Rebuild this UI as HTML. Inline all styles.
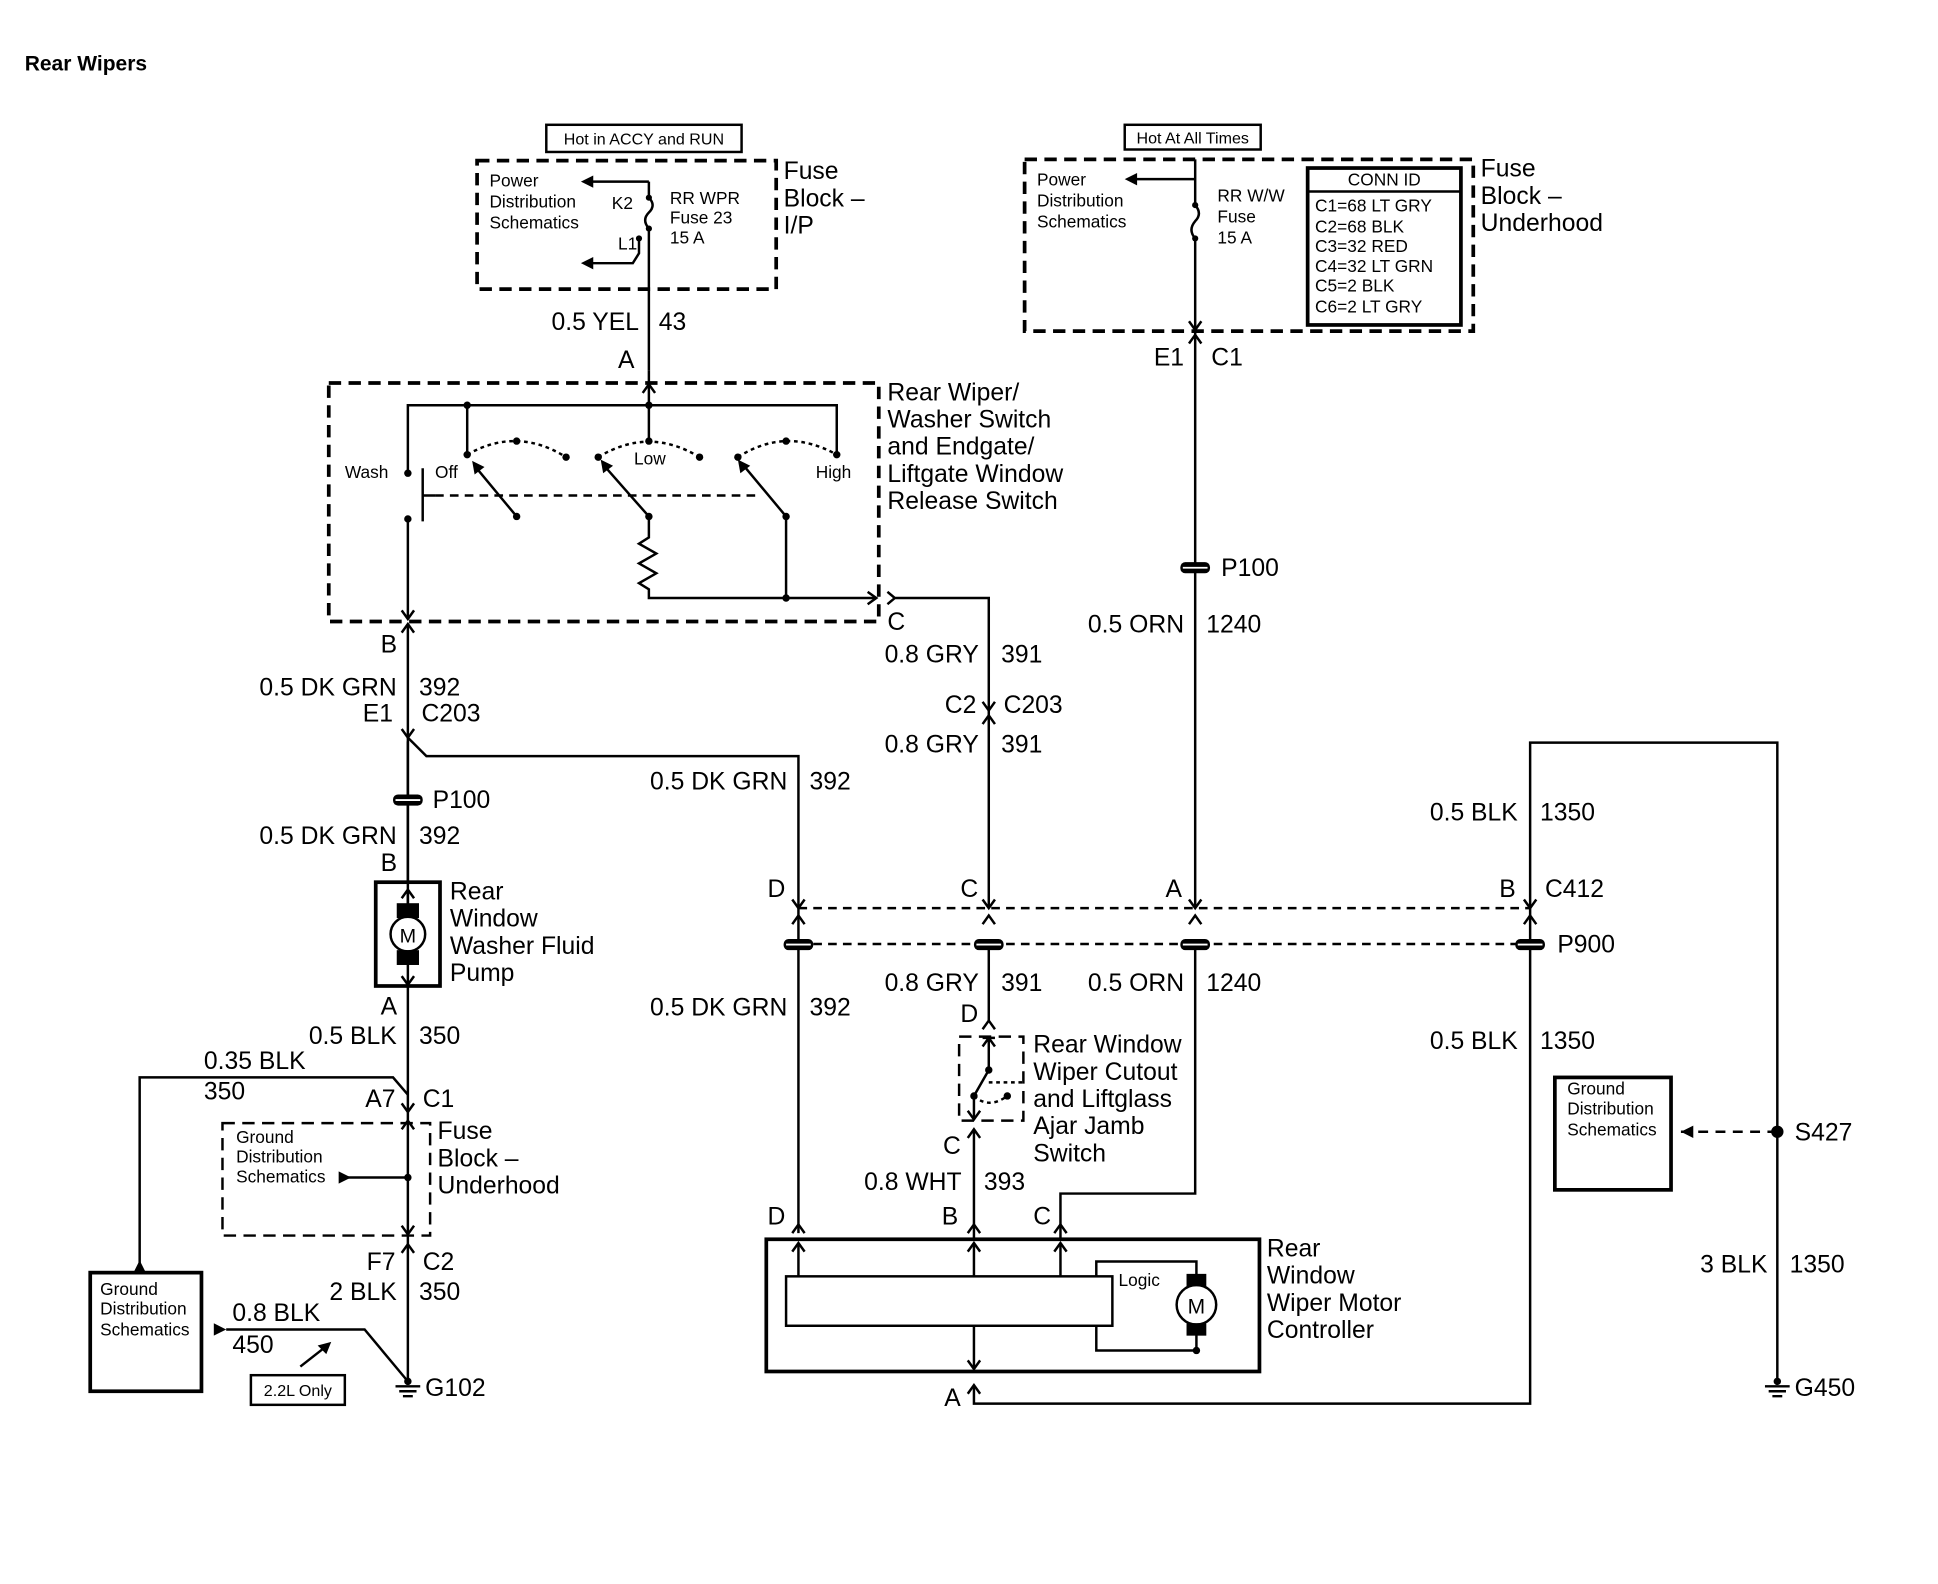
<!DOCTYPE html>
<html><head><meta charset="utf-8"><style>
html,body{margin:0;padding:0;background:#fff;}
svg{display:block;}
text{font-family:"Liberation Sans",Arial,sans-serif;fill:#000;}
.l{font-size:20px;}
.s{font-size:14px;}
.r{text-anchor:end;}
</style></head><body>
<svg width="1938" height="1584" viewBox="0 0 1568 1282" preserveAspectRatio="none" xmlns="http://www.w3.org/2000/svg">
<g fill="none" stroke="#000" stroke-width="2">
<rect x="442" y="101" width="158" height="22" stroke-width="2"/>
<rect x="386" y="130" width="242" height="104" stroke-width="3" stroke-dasharray="10,6"/>
<path d="M525 147 H478"/><path d="M525 147 V160 M525 185 V300" />
<path d="M525 160 q6 6 0 12 q-6 6 0 13"/>
<path d="M517 193 V205 L512 213 H478"/>
<rect x="266" y="310" width="445" height="193" stroke-width="3" stroke-dasharray="10,6"/>
<path d="M330 383 V328 H677 V368"/>
<path d="M378 328 V368"/><path d="M525 300 V357"/>
<path d="M520 318 L525 311 L530 318"/>
<path d="M342 379 V422 M342 401 H352"/>
<path d="M330 420 V500"/>
<path d="M325 494 L330 501 L335 494"/>
<path d="M352 401 H615" stroke-dasharray="7,5"/>
<path d="M378 368 Q418 345 458 370 M484 370 Q525 345 566 370 M597 370 Q636 345 677 368" stroke-dasharray="3,3"/>
<path d="M418 418 L384 377 M525 418 L488 376 M636 418 L601 376"/>
<path d="M525 418 V435 l-8 5 l14 8 l-14 8 l14 8 l-14 8 l8 5 V484 H708"/>
<path d="M702 479 L709 484 L702 489"/>
<path d="M636 418 V484"/>
<path d="M718 479 L724 484 L718 489 M724 484 H800 V735"/>
<path d="M330 505 V735"/>
<path d="M325 512 L330 505 L335 512"/>
<path d="M325 590 L330 597 L335 590 M330 597 L345 612 H646 V998"/>
<path d="M330 600 V714"/>
<rect x="304" y="714" width="52" height="84" stroke-width="3"/>
<path d="M330 720 V798"/>
<path d="M325 727 L330 720 L335 727 M325 790 L330 797 L335 790"/>
<circle cx="330" cy="756" r="14" fill="#fff"/>
<path d="M330 798 V1118"/>
<path d="M113 1025 V872 H318 L330 886"/>
<path d="M325 893 L330 900 L335 893 M325 914 L330 907 L335 914"/>
<rect x="180" y="909" width="168" height="91" stroke-dasharray="10,6"/>
<path d="M280 953 H330"/>
<path d="M325 992 L330 999 L335 992 M325 1014 L330 1007 L335 1014"/>
<path d="M183 1076 H295 L330 1118"/>
<path d="M243 1106 L266 1088"/>
<rect x="73" y="1030" width="90" height="96" stroke-width="3"/>
<rect x="203" y="1113" width="76" height="24"/>
<path d="M320 1122 H340 M323 1126 H337 M326 1130 H334"/>
<rect x="910" y="101" width="110" height="20"/>
<rect x="829" y="129" width="363" height="139" stroke-width="3" stroke-dasharray="10,6"/>
<path d="M967 145 H918"/>
<path d="M967 129 V166 M967 193 V735"/>
<path d="M967 166 q6 7 0 13 q-6 7 0 14"/>
<path d="M962 260 L967 267 L972 260 M962 278 L967 271 L972 278"/>
<rect x="1058" y="136" width="124" height="127" stroke-width="3"/>
<path d="M1058 155 H1182"/>
<path d="M795 568 L800 575 L805 568 M795 586 L800 579 L805 586"/>
<path d="M646 735 H1238 M646 764 H1238" stroke-dasharray="7,5"/>
<path d="M641 728 L646 735 L651 728 M795 728 L800 735 L805 728 M962 728 L967 735 L972 728 M1233 728 L1238 735 L1243 728"/>
<path d="M641 748 L646 741 L651 748 M795 748 L800 741 L805 748 M962 748 L967 741 L972 748 M1233 748 L1238 741 L1243 748"/>
<path d="M800 764 V826"/>
<path d="M795 833 L800 826 L805 833"/>
<rect x="776" y="839" width="52" height="68" stroke-dasharray="10,6"/>
<path d="M800 840 V866 L788 887 V906"/>
<path d="M795 847 L800 840 L805 847 M783 899 L788 906 L793 899 M795 840 H805"/>
<path d="M800 876 H828 M788 887 Q800 898 815 887" stroke-dasharray="3,3"/>
<path d="M783 921 L788 914 L793 921 M788 914 V1003"/>
<path d="M967 764 V966 H858 V1003"/>
<path d="M1238 735 V1136 H788 V1122"/>
<path d="M1238 735 V601 H1438 V1118"/>
<path d="M1360 916 H1438" stroke-dasharray="8,6"/>
<path d="M1428 1122 H1448 M1431 1126 H1445 M1434 1130 H1442"/>
<rect x="1258" y="872" width="94" height="91" stroke-width="3"/>
<path d="M641 998 L646 991 L651 998 M783 998 L788 991 L793 998 M853 998 L858 991 L863 998"/>
<rect x="620" y="1003" width="399" height="107" stroke-width="3"/>
<rect x="636" y="1033" width="264" height="40"/>
<path d="M646 1033 V1006 M788 1033 V1006 M858 1033 V1006"/>
<path d="M641 1013 L646 1006 L651 1013 M783 1013 L788 1006 L793 1013 M853 1013 L858 1006 L863 1013"/>
<path d="M788 1073 V1108 M783 1101 L788 1108 L793 1101 M783 1128 L788 1121 L793 1128"/>
<path d="M900 1021 H887 V1033 M887 1073 V1093 H968 M887 1021 H968 V1093"/>
<circle cx="968" cy="1056" r="16" fill="#fff"/>
</g>
<g fill="#000">
<circle cx="378" cy="328" r="3"/><circle cx="525" cy="328" r="3"/>
<circle cx="378" cy="368" r="3"/><circle cx="418" cy="357" r="3"/><circle cx="458" cy="370" r="3"/>
<circle cx="484" cy="370" r="3"/><circle cx="525" cy="357" r="3"/><circle cx="566" cy="370" r="3"/>
<circle cx="597" cy="370" r="3"/><circle cx="636" cy="357" r="3"/><circle cx="677" cy="368" r="3"/>
<circle cx="330" cy="383" r="3"/><circle cx="330" cy="420" r="3"/>
<circle cx="418" cy="418" r="3"/><circle cx="525" cy="418" r="3"/><circle cx="636" cy="418" r="3"/><circle cx="636" cy="484" r="3"/>
<circle cx="525" cy="160" r="2.5"/><circle cx="525" cy="185" r="2.5"/><circle cx="517" cy="193" r="2.5"/>
<circle cx="967" cy="166" r="2.5"/><circle cx="967" cy="193" r="2.5"/>
<circle cx="330" cy="953" r="3"/><circle cx="330" cy="1118" r="3"/><circle cx="1438" cy="1118" r="3"/>
<circle cx="1438" cy="916" r="5"/><circle cx="800" cy="866" r="3"/><circle cx="788" cy="887" r="3"/><circle cx="815" cy="887" r="3"/>
<circle cx="968" cy="1093" r="3"/>
<path d="M470 147 L480 142 L480 152Z"/><path d="M470 213 L480 208 L480 218Z"/><path d="M910 145 L920 140 L920 150Z"/>
<path d="M382 373 L384 384 L392 378Z"/><path d="M486 372 L488 383 L496 377Z"/><path d="M597 372 L599 383 L607 377Z"/>
<path d="M284 953 L274 948 L274 958Z"/><path d="M113 1020 L108 1030 L118 1030Z"/><path d="M183 1076 L173 1071 L173 1081Z"/>
<path d="M268 1086 L257 1089 L264 1096Z"/><path d="M1360 916 L1370 911 L1370 921Z"/>
<rect x="321" y="731" width="18" height="12"/><rect x="321" y="769" width="18" height="12"/>
<rect x="960" y="1031" width="16" height="10"/><rect x="960" y="1071" width="16" height="10"/>
<rect x="955" y="455" width="24" height="9" rx="4"/>
<rect x="318" y="643" width="24" height="9" rx="4"/>
<rect x="634" y="760" width="24" height="9" rx="4"/><rect x="788" y="760" width="24" height="9" rx="4"/>
<rect x="955" y="760" width="24" height="9" rx="4"/><rect x="1226" y="760" width="24" height="9" rx="4"/>
</g>
<g stroke="#fff" stroke-width="1.5">
<path d="M957 459.5 H977 M320 647.5 H340 M636 764.5 H656 M790 764.5 H810 M957 764.5 H977 M1228 764.5 H1248"/>
</g>
<text x="20" y="57" style="font-size:17px;font-weight:bold">Rear Wipers</text>
<text x="521" y="117" class="s" text-anchor="middle" style="font-size:13px">Hot in ACCY and RUN</text>
<text x="396" y="151" class="s">Power</text><text x="396" y="168" class="s">Distribution</text><text x="396" y="185" class="s">Schematics</text>
<text x="495" y="169" class="s">K2</text><text x="500" y="202" class="s">L1</text>
<text x="542" y="165" class="s">RR WPR</text><text x="542" y="181" class="s">Fuse 23</text><text x="542" y="197" class="s">15 A</text>
<text x="634" y="145" class="l">Fuse</text><text x="634" y="167" class="l">Block –</text><text x="634" y="189" class="l">I/P</text>
<text x="517" y="267" class="l r">0.5 YEL</text><text x="533" y="267" class="l">43</text>
<text x="500" y="298" class="l">A</text>
<text x="279" y="387" class="s">Wash</text><text x="352" y="387" class="s">Off</text><text x="513" y="376" class="s">Low</text><text x="660" y="387" class="s">High</text>
<text x="718" y="324" class="l">Rear Wiper/</text><text x="718" y="346" class="l">Washer Switch</text><text x="718" y="368" class="l">and Endgate/</text><text x="718" y="390" class="l">Liftgate Window</text><text x="718" y="412" class="l">Release Switch</text>
<text x="718" y="510" class="l">C</text>
<text x="308" y="528" class="l">B</text>
<text x="321" y="563" class="l r">0.5 DK GRN</text><text x="339" y="563" class="l">392</text>
<text x="318" y="584" class="l r">E1</text><text x="341" y="584" class="l">C203</text>
<text x="350" y="654" class="l">P100</text>
<text x="321" y="683" class="l r">0.5 DK GRN</text><text x="339" y="683" class="l">392</text>
<text x="308" y="705" class="l">B</text>
<text x="330" y="763" text-anchor="middle" style="font-size:16px">M</text>
<text x="364" y="728" class="l">Rear</text><text x="364" y="750" class="l">Window</text><text x="364" y="772" class="l">Washer Fluid</text><text x="364" y="794" class="l">Pump</text>
<text x="308" y="821" class="l">A</text>
<text x="321" y="845" class="l r">0.5 BLK</text><text x="339" y="845" class="l">350</text>
<text x="165" y="865" class="l">0.35 BLK</text><text x="165" y="890" class="l">350</text>
<text x="320" y="896" class="l r">A7</text><text x="342" y="896" class="l">C1</text>
<text x="191" y="925" class="s">Ground</text><text x="191" y="941" class="s">Distribution</text><text x="191" y="957" class="s">Schematics</text>
<text x="354" y="922" class="l">Fuse</text><text x="354" y="944" class="l">Block –</text><text x="354" y="966" class="l">Underhood</text>
<text x="320" y="1028" class="l r">F7</text><text x="342" y="1028" class="l">C2</text>
<text x="321" y="1052" class="l r">2 BLK</text><text x="339" y="1052" class="l">350</text>
<text x="81" y="1048" class="s">Ground</text><text x="81" y="1064" class="s">Distribution</text><text x="81" y="1081" class="s">Schematics</text>
<text x="188" y="1069" class="l">0.8 BLK</text><text x="188" y="1095" class="l">450</text>
<text x="241" y="1130" class="s" text-anchor="middle" style="font-size:13px">2.2L Only</text>
<text x="344" y="1130" class="l">G102</text>
<text x="965" y="116" class="s" text-anchor="middle" style="font-size:13px">Hot At All Times</text>
<text x="839" y="150" class="s">Power</text><text x="839" y="167" class="s">Distribution</text><text x="839" y="184" class="s">Schematics</text>
<text x="985" y="163" class="s">RR W/W</text><text x="985" y="180" class="s">Fuse</text><text x="985" y="197" class="s">15 A</text>
<text x="1120" y="150" class="s" text-anchor="middle">CONN ID</text>
<text x="1064" y="171" class="s">C1=68 LT GRY</text><text x="1064" y="188" class="s">C2=68 BLK</text><text x="1064" y="204" class="s">C3=32 RED</text>
<text x="1064" y="220" class="s">C4=32 LT GRN</text><text x="1064" y="236" class="s">C5=2 BLK</text><text x="1064" y="253" class="s">C6=2 LT GRY</text>
<text x="1198" y="143" class="l">Fuse</text><text x="1198" y="165" class="l">Block –</text><text x="1198" y="187" class="l">Underhood</text>
<text x="958" y="296" class="l r">E1</text><text x="980" y="296" class="l">C1</text>
<text x="988" y="466" class="l">P100</text>
<text x="958" y="512" class="l r">0.5 ORN</text><text x="976" y="512" class="l">1240</text>
<text x="792" y="536" class="l r">0.8 GRY</text><text x="810" y="536" class="l">391</text>
<text x="790" y="577" class="l r">C2</text><text x="812" y="577" class="l">C203</text>
<text x="792" y="609" class="l r">0.8 GRY</text><text x="810" y="609" class="l">391</text>
<text x="637" y="639" class="l r">0.5 DK GRN</text><text x="655" y="639" class="l">392</text>
<text x="1228" y="664" class="l r">0.5 BLK</text><text x="1246" y="664" class="l">1350</text>
<text x="621" y="726" class="l">D</text><text x="777" y="726" class="l">C</text><text x="943" y="726" class="l">A</text><text x="1213" y="726" class="l">B</text><text x="1250" y="726" class="l">C412</text>
<text x="1260" y="771" class="l">P900</text>
<text x="792" y="802" class="l r">0.8 GRY</text><text x="810" y="802" class="l">391</text>
<text x="958" y="802" class="l r">0.5 ORN</text><text x="976" y="802" class="l">1240</text>
<text x="637" y="822" class="l r">0.5 DK GRN</text><text x="655" y="822" class="l">392</text>
<text x="777" y="827" class="l">D</text>
<text x="1228" y="849" class="l r">0.5 BLK</text><text x="1246" y="849" class="l">1350</text>
<text x="836" y="852" class="l">Rear Window</text><text x="836" y="874" class="l">Wiper Cutout</text><text x="836" y="896" class="l">and Liftglass</text><text x="836" y="918" class="l">Ajar Jamb</text><text x="836" y="940" class="l">Switch</text>
<text x="1268" y="886" class="s">Ground</text><text x="1268" y="902" class="s">Distribution</text><text x="1268" y="919" class="s">Schematics</text>
<text x="1452" y="923" class="l">S427</text>
<text x="763" y="934" class="l">C</text>
<text x="778" y="963" class="l r">0.8 WHT</text><text x="796" y="963" class="l">393</text>
<text x="621" y="991" class="l">D</text><text x="762" y="991" class="l">B</text><text x="836" y="991" class="l">C</text>
<text x="1025" y="1017" class="l">Rear</text><text x="1025" y="1039" class="l">Window</text><text x="1025" y="1061" class="l">Wiper Motor</text><text x="1025" y="1083" class="l">Controller</text>
<text x="1430" y="1030" class="l r">3 BLK</text><text x="1448" y="1030" class="l">1350</text>
<text x="905" y="1041" class="s">Logic</text>
<text x="968" y="1063" text-anchor="middle" style="font-size:17px">M</text>
<text x="764" y="1138" class="l">A</text>
<text x="1452" y="1130" class="l">G450</text>
</svg>
</body></html>
